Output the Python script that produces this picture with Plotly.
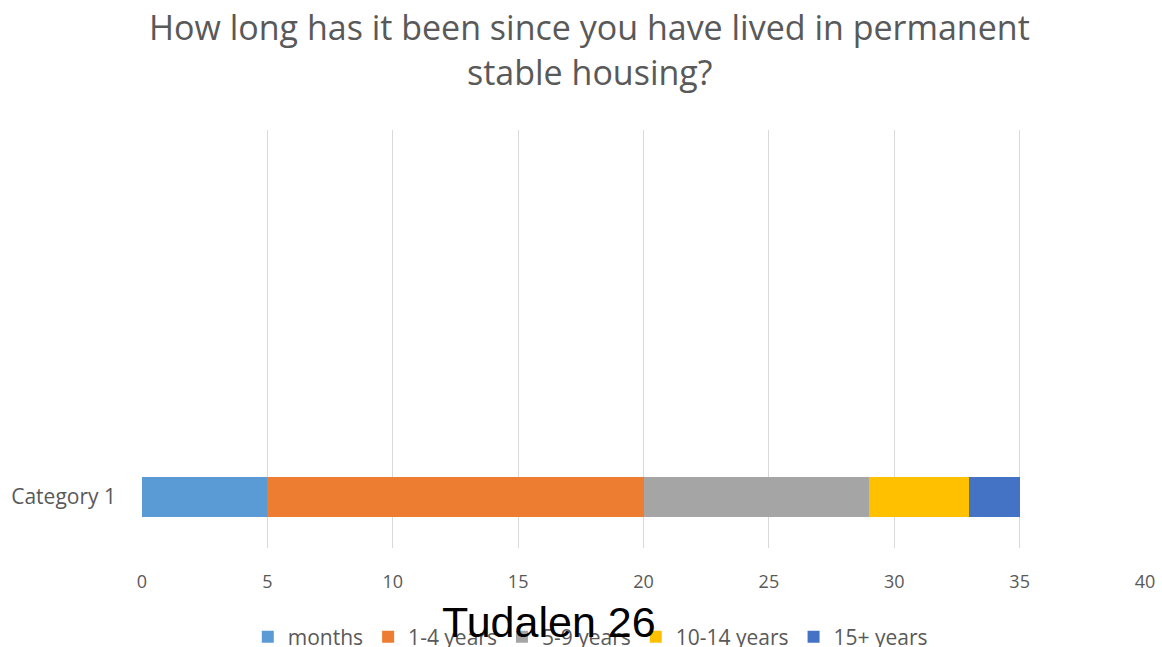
import plotly.graph_objects as go

categories = ["Category 1"]
series_names = ["months", "1-4 years", "5-9 years", "10-14 years", "15+ years"]
series_values = [[5], [15], [9], [4], [2]]
colors = ["#5B9BD5", "#ED7D31", "#A5A5A5", "#FFC000", "#4472C4"]
x_ticks = [0, 5, 10, 15, 20, 25, 30, 35, 40]
title_lines = ["How long has it been since you have lived in permanent", "stable housing?"]

fig = go.Figure()
for name, vals, col in zip(series_names, series_values, colors):
    fig.add_trace(go.Bar(
        y=categories, x=vals, name=name, orientation="h",
        marker=dict(color=col, line=dict(width=0)), width=0.4,
    ))

font_family = "'Open Sans', Lato, sans-serif"
W, H = 1162, 647
annotations = []
for line, ypix in zip(title_lines, [27, 72]):
    annotations.append(dict(
        text=line, xref="paper", yref="paper",
        x=(589 - 142) / 1003, y=(548 - ypix) / 418,
        xanchor="center", yanchor="middle", showarrow=False,
        font=dict(family=font_family, size=34, color="#595959"),
    ))
annotations.append(dict(
    text="Tudalen 26", xref="paper", yref="paper",
    x=(549 - 142) / 1003, y=-(622 - 548) / 418,
    xanchor="center", yanchor="middle", showarrow=False,
    font=dict(family="Liberation Sans, Arial, sans-serif", size=43, color="black"),
))

fig.update_layout(
    barmode="stack",
    width=W, height=H,
    paper_bgcolor="white", plot_bgcolor="white",
    margin=dict(l=142, r=17, t=130, b=99, autoexpand=False),
    xaxis=dict(
        range=[0, 40], tickvals=x_ticks, showgrid=True, gridcolor="#D9D9D9",
        gridwidth=1, zeroline=False, showline=False, ticks="",
        tickfont=dict(family=font_family, size=18, color="#595959"),
        ticklabelstandoff=21, automargin=False,
    ),
    yaxis=dict(
        type="category", range=[-0.5, 3.6], showgrid=False, zeroline=False,
        showline=False, ticks="", ticklabelstandoff=25, automargin=False,
        tickfont=dict(family=font_family, size=21, color="#595959"),
    ),
    showlegend=True,
    legend=dict(
        orientation="h", xref="container", yref="container",
        x=0.508, xanchor="center", y=(647 - 637) / 647, yanchor="middle",
        font=dict(family=font_family, size=21, color="#595959"),
        traceorder="normal", itemwidth=30, bgcolor="rgba(0,0,0,0)",
    ),
    annotations=annotations,
)

fig.write_html("out.html", post_script="document.body.style.margin='0';",
               config={"displayModeBar": False})
